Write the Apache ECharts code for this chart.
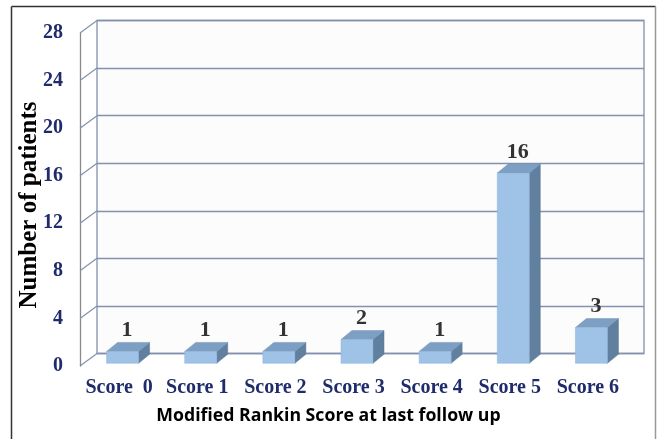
<!DOCTYPE html>
<html>
<head>
<meta charset="utf-8">
<script src="https://cdn.jsdelivr.net/npm/echarts@6/dist/echarts.min.js"></script>
<style>html,body{margin:0;padding:0;background:#fff}#c{width:657px;height:439px}</style>
</head>
<body>
<div id="c"></div>
<script>
const categories = ['Score  0', 'Score 1', 'Score 2', 'Score 3', 'Score 4', 'Score 5', 'Score 6'];
const patients = [1, 1, 1, 2, 1, 16, 3];
const yTicks = [0, 4, 8, 12, 16, 20, 24, 28];
const yTitle = 'Number of patients';
const xTitle = 'Modified Rankin Score at last follow up';

const WALL_DX = 17, WALL_DY = -12.5;   // depth of the floor / side wall
const BAR_SX = 3.5, BAR_SY = -2.7;     // bar front face set back from front plane
const BAR_DX = 11, BAR_DY = -9;        // bar depth
const BAR_W = 32;

const chart = echarts.init(document.getElementById('c'), null, {renderer: 'canvas'});

const navy = '#1f2b6b';
const gridCol = '#8390ae';

const option = {
  animation: false,
  backgroundColor: '#fff',
  title: {
    text: xTitle,
    left: 'center',
    top: 407,
    padding: 0,
    textStyle: {fontFamily: 'Open Sans', fontWeight: 'bold', fontSize: 17.7, color: '#000'}
  },
  graphic: [
    {type: 'line', shape: {x1: 11.5, y1: 6.5, x2: 11.5, y2: 445}, style: {stroke: '#333', lineWidth: 1.5}},
    {type: 'line', shape: {x1: 11.5, y1: 6.5, x2: 655.5, y2: 6.5}, style: {stroke: '#333', lineWidth: 1.5}},
    {type: 'line', shape: {x1: 655.5, y1: 6.5, x2: 655.5, y2: 445}, style: {stroke: '#999', lineWidth: 1.5}},
    {type: 'text', x: 30, y: 205, rotation: Math.PI / 2,
      style: {text: yTitle, fontFamily: 'Liberation Serif', fontWeight: 'bold', fontSize: 25, fill: '#000',
        align: 'center', verticalAlign: 'middle'}}
  ],
  grid: [
    {left: 80, right: 30, top: 33, bottom: 73},
    {left: 97, right: 13, top: 20.5, bottom: 85.5, show: true, borderColor: gridCol, borderWidth: 1.3, backgroundColor: '#fcfcfc'}
  ],
  xAxis: [
    {
      type: 'category', gridIndex: 0, data: categories,
      axisLine: {show: false}, axisTick: {show: false},
      axisLabel: {margin: 12, fontFamily: 'Liberation Serif', fontWeight: 'bold', fontSize: 20, color: navy, interval: 0}
    },
    {type: 'category', gridIndex: 1, data: categories, show: false}
  ],
  yAxis: [
    {
      type: 'value', gridIndex: 0, min: 0, max: 28, interval: 4,
      axisLine: {show: true, lineStyle: {color: '#8a8a8a', width: 1.3}},
      axisTick: {show: false}, splitLine: {show: false},
      axisLabel: {margin: 17, fontFamily: 'Liberation Serif', fontWeight: 'bold', fontSize: 20, color: navy}
    },
    {
      type: 'value', gridIndex: 1, min: 0, max: 28, interval: 4,
      axisLine: {show: false}, axisTick: {show: false}, axisLabel: {show: false},
      splitLine: {show: true, lineStyle: {color: gridCol, width: 1.3}}
    }
  ],
  series: [
    {
      type: 'custom', xAxisIndex: 0, yAxisIndex: 0, z: 3, silent: true,
      data: yTicks.map(v => [0, v]),
      renderItem: function (params, api) {
        const y = api.coord([0, api.value(1)])[1];
        const x = params.coordSys.x;
        return {
          type: 'line',
          shape: {x1: x, y1: y, x2: x + WALL_DX, y2: y + WALL_DY},
          style: {stroke: gridCol, lineWidth: 1.2}
        };
      }
    },
    {
      type: 'custom', xAxisIndex: 0, yAxisIndex: 0, z: 5, silent: true,
      data: patients.map((v, i) => [i, v]),
      renderItem: function (params, api) {
        const i = api.value(0), v = api.value(1);
        const base = api.coord([i, 0]);
        const top = api.coord([i, v]);
        const cx = base[0] + BAR_SX;
        const x0 = cx - BAR_W / 2, x1 = cx + BAR_W / 2;
        const yb = base[1] + BAR_SY, yt = top[1] + BAR_SY;
        return {
          type: 'group',
          children: [
            {type: 'polygon', shape: {points: [[x1, yt], [x1 + BAR_DX, yt + BAR_DY], [x1 + BAR_DX, yb + BAR_DY], [x1, yb]]},
              style: {fill: '#617f9e', stroke: '#5a7693', lineWidth: 0.5}},
            {type: 'polygon', shape: {points: [[x0, yt], [x1, yt], [x1 + BAR_DX, yt + BAR_DY], [x0 + BAR_DX, yt + BAR_DY]]},
              style: {fill: '#7d9fc3', stroke: '#7393b6', lineWidth: 0.5}},
            {type: 'rect', shape: {x: x0, y: yt, width: BAR_W, height: yb - yt},
              style: {fill: '#9ec3e7', stroke: '#8fb2d6', lineWidth: 0.5}},
            {type: 'text', x: cx + BAR_DX / 2 - 1, y: yt + BAR_DY - 12,
              style: {text: String(v), fontFamily: 'Liberation Serif', fontWeight: 'bold', fontSize: 22,
                fill: '#333', align: 'center', verticalAlign: 'middle'}}
          ]
        };
      }
    }
  ]
};
chart.setOption(option);
</script>
</body>
</html>
